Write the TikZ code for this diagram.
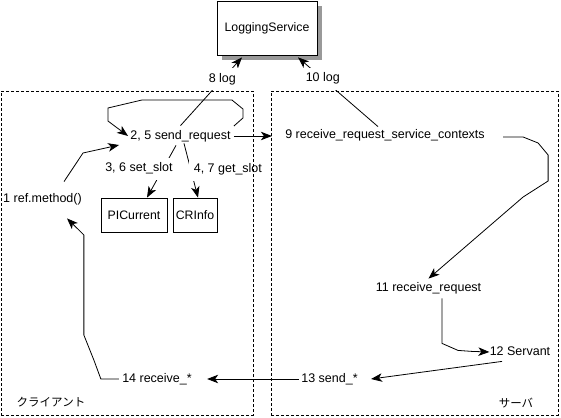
\documentclass[tikz,border=0pt]{standalone}
\usepackage{fontspec}
\setmainfont{Liberation Sans}
\newfontfamily\jpfont{Noto Sans CJK JP}
\usepackage{tikz}
\usetikzlibrary{positioning}
\usetikzlibrary{shapes,arrows.meta,shadows}

\begin{document}
\begin{tikzpicture}[x=1pt,y=-1pt,>={Stealth[length=11pt,width=8.5pt,inset=3pt]},line width=0.8pt]
\tikzset{StepStyle/.style = {inner sep=0pt, text height=9pt, text depth=3pt,
                             font=\fontsize{12.5}{14}\selectfont},
         LabelStyle/.style = {StepStyle, fill=white, inner sep=5pt},
         BoxStyle/.style = {draw, rectangle, fill=white, inner sep=0pt,
                            font=\fontsize{12.3}{14}\selectfont},
         FrameStyle/.style = {draw, dash pattern=on 3pt off 2pt, inner sep=0pt},
         SideStyle/.style = {inner sep=0pt, font=\jpfont\fontsize{11.5}{13}\selectfont}}
\useasboundingbox (0,0) rectangle (561,417);

\node[BoxStyle, minimum width=100pt, minimum height=54pt,
      drop shadow={shadow xshift=5pt, shadow yshift=-5pt, fill=black!40, opacity=1}]
      (log) at (267,28) {LoggingService};
\node[StepStyle] (send) at (180.5,136) {2, 5 send\_request};
\node[StepStyle] (ctx) at (385,135) {9 receive\_request\_service\_contexts};
\node[StepStyle] (ref) at (42.5,199) {1 ref.method()};
\node[BoxStyle, minimum width=66pt, minimum height=34pt] (pic) at (134,215) {PICurrent};
\node[BoxStyle, minimum width=44pt, minimum height=34pt] (cr) at (195,215) {CRInfo};
\node[StepStyle] (recv) at (428.5,288) {11 receive\_request};
\node[StepStyle] (servant) at (520,352) {12 Servant};
\node[StepStyle] (sendstar) at (329.5,379) {13 send\_*};
\node[StepStyle] (recvstar) at (157,379) {14 receive\_*};

% client side
\draw[->] ([shift={(21.5,-11)}]ref.north) -- (83,153) -- ([shift={(-11,9)}]send.west);
\draw[->] ([shift={(3,-10)}]send.east) -- ++(9,-8) -- ++(0,-9) -- ++(-11,-9)
          -- ++(-90,0) -- ++(-34,8) -- ++(0,13) -- ([xshift=-2pt]send.west);
\draw[->] ([shift={(-4.5,3)}]send.south)
          -- node[LabelStyle, pos=.45, xshift=-24pt] (setslot) {3, 6 set\_slot}
          ([xshift=13pt]pic.north);
\draw[->] ([shift={(3.5,1)}]send.south)
          -- node[LabelStyle, pos=.49, xshift=37pt] (getslot) {4, 7 get\_slot}
          ([xshift=3pt]cr.north);
\draw[->] ([shift={(0,-4)}]send.north)
          -- node[LabelStyle, pos=.68] (log8) {8 log} ([shift={(-25,2)}]log.south);
\draw[->] ([xshift=3pt]send.east) -- ([xshift=-13pt]ctx.west |- send.east);

% server side
\draw[->] ([shift={(-7,-2)}]ctx.north)
          -- node[LabelStyle, pos=.69] (log10) {10 log} ([shift={(31,2)}]log.south);
\draw[->] ([shift={(18,2)}]ctx.east) -- ++(20,0) -- ++(15,6) -- ++(10,12)
          -- ++(0,26) -- ++(-25,16) -- ([shift={(0,-3)}]recv.north);
\draw[->] ([shift={(13.5,4)}]recv.south) -- ++(0,45) -- ++(16,7) -- ++(14,1)
          -- (servant.west);
\draw[->] ([shift={(-18,3)}]servant.south) -- ([xshift=13pt]sendstar.east);
\draw[->] ([xshift=-2pt]sendstar.west) -- ([xshift=15pt]recvstar.east);
\draw[->] ([xshift=-3pt]recvstar.west) -- ++(-18,0) -- ++(-7,-19) -- ++(-8,-20)
          -- ++(-2,-5) -- ++(0,-100) -- ++(-5,-5) -- ([shift={(24.5,13)}]ref.south);

\node[FrameStyle, minimum width=252pt, minimum height=324pt] (client) at (127,253) {};
\node[FrameStyle, minimum width=287pt, minimum height=324pt] (server) at (414.5,253) {};
\node[SideStyle] (clientname) at (51,402) {クライアント};
\node[SideStyle] (servername) at (516,403) {サーバ};
\end{tikzpicture}
\end{document}
